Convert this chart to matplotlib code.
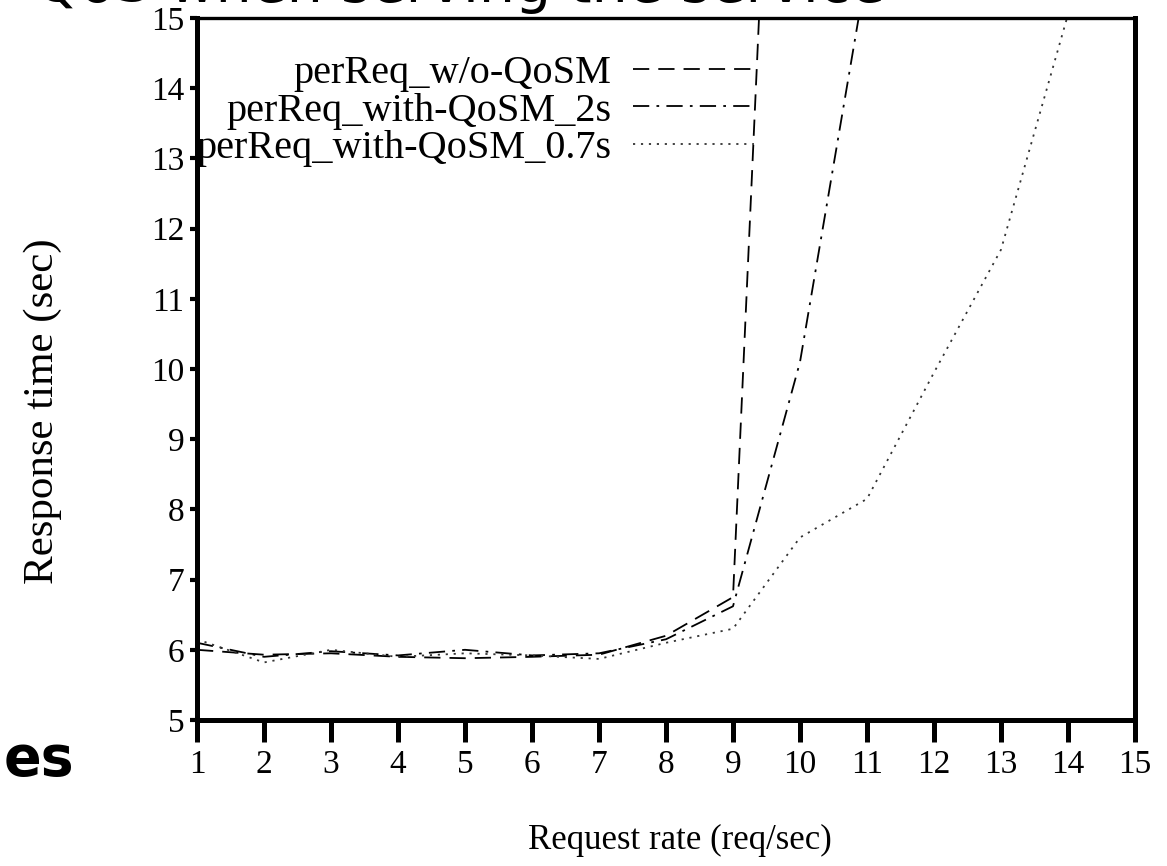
"""
Response time vs. request rate (perReq, with / without QoSM)
"""
import matplotlib
matplotlib.use("Agg")
import matplotlib.pyplot as plt

rate = [1, 2, 3, 4, 5, 6, 7, 8, 9, 10, 11, 12, 13, 14, 15]

wo_qosm = [6.0, 5.93, 5.95, 5.9, 5.88, 5.9, 5.93, 6.2, 6.75, 28.0]
qosm_2s = [6.1, 5.9, 5.98, 5.92, 6.0, 5.92, 5.95, 6.15, 6.62, 10.1, 15.7]
qosm_07s = [6.15, 5.82, 6.0, 5.9, 5.95, 5.92, 5.87, 6.1, 6.3, 7.6, 8.15, 9.95, 11.7, 15.05, 19.0]

labels = ['perReq_w/o-QoSM', 'perReq_with-QoSM_2s', 'perReq_with-QoSM_0.7s']

serif = ['Liberation Serif', 'DejaVu Serif']

fig = plt.figure(figsize=(11.67, 8.66), dpi=100)
ax = fig.add_axes([197 / 1167, 1 - 720 / 866, (1135 - 197) / 1167, (720 - 18) / 866])

ax.plot(rate[:len(wo_qosm)], wo_qosm, color='black', linewidth=1.3,
        dashes=(9, 5), label=labels[0])
ax.plot(rate[:len(qosm_2s)], qosm_2s, color='black', linewidth=1.3,
        dashes=(9, 4, 1.5, 4), label=labels[1])
ax.plot(rate[:len(qosm_07s)], qosm_07s, color='#333333', linewidth=1.3,
        dashes=(1.2, 3.2), label=labels[2])

ax.set_xlim(1, 15)
ax.set_ylim(5, 15)
ax.set_xticks(rate)
ax.set_yticks(range(5, 16))

for side in ['left', 'right', 'bottom']:
    ax.spines[side].set_linewidth(3.6)
ax.spines['top'].set_linewidth(2.4)

ax.tick_params(axis='x', direction='out', length=16, width=3.6, pad=5,
               labelsize=24, top=False)
ax.tick_params(axis='y', direction='out', length=5, width=3, pad=4,
               labelsize=24, right=False)
for lab in ax.get_xticklabels() + ax.get_yticklabels():
    lab.set_family(serif)

ax.set_xlabel('Request rate (req/sec)', fontsize=25, family=serif)
ax.set_ylabel('Response time (sec)', fontsize=31, family=serif)
ax.xaxis.set_label_coords(0.515, -0.148)
ax.yaxis.set_label_coords(-0.144, 0.44)

leg = ax.legend(loc='upper right', bbox_to_anchor=(0.594, 0.947), frameon=False,
                markerfirst=False, handlelength=3.0, handletextpad=0.55,
                labelspacing=0.0, borderpad=0, borderaxespad=0,
                prop={'family': serif, 'size': 29})

# slide text fragments around the chart (cut off in the screenshot)
fig.text(0.03, 1 - 2 / 866, 'QoS when serving the service', fontsize=41,
         va='baseline', ha='left', family=['DejaVu Sans'])
fig.text(0.003, 1 - 760 / 866, 'es', fontsize=40, fontweight='bold',
         va='center', ha='left', family=['DejaVu Sans'])

fig.savefig('out.png', dpi=100)
